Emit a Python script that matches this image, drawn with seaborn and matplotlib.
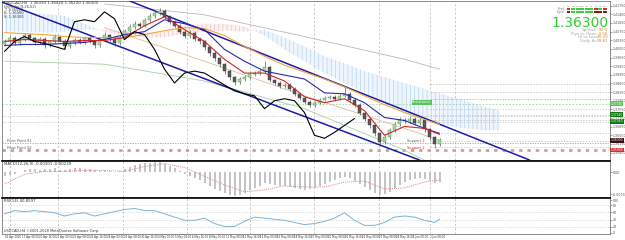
import numpy as np
import seaborn as sns
import matplotlib.pyplot as plt
import matplotlib.transforms as mtransforms
from matplotlib.patches import Rectangle

# H4 bars
first_open = 1.4020
closes = [1.4030, 1.4046, 1.4022, 1.4038, 1.4058, 1.4046, 1.4026, 1.4042, 1.4014, 1.4030,
          1.4050, 1.4034, 1.4010, 1.4022, 1.4038, 1.4026, 1.4046, 1.4030, 1.4014, 1.4038,
          1.4058, 1.4042, 1.4022, 1.4050, 1.4074, 1.4090, 1.4102, 1.4094, 1.4118, 1.4134,
          1.4146, 1.4154, 1.4130, 1.4110, 1.4094, 1.4070, 1.4054, 1.4066, 1.4042, 1.4030,
          1.4006, 1.3982, 1.3962, 1.3938, 1.3910, 1.3886, 1.3866, 1.3878, 1.3886, 1.3898,
          1.3902, 1.3910, 1.3926, 1.3874, 1.3862, 1.3850, 1.3854, 1.3838, 1.3818, 1.3802,
          1.3786, 1.3774, 1.3782, 1.3794, 1.3802, 1.3806, 1.3798, 1.3810, 1.3818, 1.3794,
          1.3774, 1.3742, 1.3718, 1.3690, 1.3658, 1.3622, 1.3642, 1.3670, 1.3694, 1.3714,
          1.3706, 1.3718, 1.3698, 1.3710, 1.3674, 1.3642, 1.3614, 1.3630]
highs = [1.4042, 1.4056, 1.4054, 1.4048, 1.4066, 1.4064, 1.4050, 1.4050, 1.4048, 1.4038,
         1.4060, 1.4056, 1.4040, 1.4032, 1.4046, 1.4044, 1.4054, 1.4052, 1.4036, 1.4046,
         1.4068, 1.4062, 1.4048, 1.4058, 1.4082, 1.4100, 1.4112, 1.4110, 1.4126, 1.4144,
         1.4158, 1.4166, 1.4160, 1.4136, 1.4118, 1.4100, 1.4078, 1.4076, 1.4072, 1.4050,
         1.4036, 1.4012, 1.3990, 1.3968, 1.3944, 1.3918, 1.3892, 1.3886, 1.3894, 1.3906,
         1.3912, 1.3918, 1.3950, 1.3932, 1.3880, 1.3868, 1.3862, 1.3860, 1.3844, 1.3824,
         1.3808, 1.3792, 1.3790, 1.3800, 1.3810, 1.3814, 1.3812, 1.3818, 1.3844, 1.3824,
         1.3800, 1.3780, 1.3748, 1.3724, 1.3696, 1.3664, 1.3650, 1.3678, 1.3702, 1.3724,
         1.3722, 1.3728, 1.3724, 1.3720, 1.3716, 1.3680, 1.3648, 1.3640]
lows = [1.4012, 1.4024, 1.4014, 1.4016, 1.4032, 1.4036, 1.4016, 1.4020, 1.4002, 1.4008,
        1.4024, 1.4026, 1.3998, 1.4004, 1.4014, 1.4018, 1.4020, 1.4022, 1.4004, 1.4008,
        1.4032, 1.4034, 1.4012, 1.4016, 1.4044, 1.4066, 1.4082, 1.4084, 1.4088, 1.4110,
        1.4126, 1.4138, 1.4120, 1.4100, 1.4084, 1.4060, 1.4044, 1.4046, 1.4034, 1.4020,
        1.3996, 1.3972, 1.3950, 1.3926, 1.3898, 1.3876, 1.3854, 1.3858, 1.3870, 1.3880,
        1.3890, 1.3894, 1.3904, 1.3866, 1.3852, 1.3840, 1.3842, 1.3828, 1.3808, 1.3792,
        1.3776, 1.3764, 1.3766, 1.3776, 1.3788, 1.3796, 1.3790, 1.3792, 1.3804, 1.3786,
        1.3764, 1.3732, 1.3708, 1.3680, 1.3646, 1.3606, 1.3614, 1.3636, 1.3664, 1.3688,
        1.3698, 1.3700, 1.3690, 1.3692, 1.3664, 1.3630, 1.3600, 1.3606]

# indicator lines, sampled every 4 bars
ma_idx = [0, 4, 8, 12, 16, 20, 24, 28, 32, 36, 40, 44, 48, 52, 56, 60, 64, 68, 72, 76, 80, 84, 87]
tenkan = [1.4030, 1.4038, 1.4034, 1.4030, 1.4034, 1.4034, 1.4046, 1.4094, 1.4130, 1.4078, 1.4030, 1.3958,
          1.3902, 1.3902, 1.3870, 1.3806, 1.3782, 1.3798, 1.3750, 1.3650, 1.3686, 1.3678, 1.3654]
kijun = [1.4014, 1.4018, 1.4018, 1.4022, 1.4026, 1.4038, 1.4058, 1.4070, 1.4118, 1.4102, 1.4078, 1.3998,
         1.3950, 1.3910, 1.3894, 1.3878, 1.3822, 1.3818, 1.3782, 1.3722, 1.3710, 1.3678, 1.3658]
slow_ma = [1.4066, 1.4062, 1.4058, 1.4050, 1.4046, 1.4046, 1.4046, 1.4058, 1.4074, 1.4086, 1.4082, 1.4054,
           1.4010, 1.3970, 1.3934, 1.3906, 1.3878, 1.3846, 1.3810, 1.3774, 1.3742, 1.3714, 1.3694]

# ichimoku cloud (shifted forward)
cloud_idx = [0, 4, 8, 12, 16, 20, 24, 28, 32, 36, 40, 44, 48, 52, 56, 60, 64, 68, 72, 76, 80, 84, 88, 92, 96, 99]
span_a = [1.4146, 1.4150, 1.4142, 1.4134, 1.4102, 1.4070, 1.4054, 1.4046, 1.4046, 1.4062, 1.4070, 1.4074, 1.4070,
          1.4078, 1.4046, 1.4010, 1.3970, 1.3942, 1.3910, 1.3886, 1.3862, 1.3838, 1.3814, 1.3790, 1.3766, 1.3750]
span_b = [1.4070, 1.4070, 1.4066, 1.4070, 1.4078, 1.4078, 1.4070, 1.4066, 1.4070, 1.4094, 1.4102, 1.4102, 1.4090,
          1.4054, 1.3998, 1.3950, 1.3902, 1.3862, 1.3822, 1.3782, 1.3742, 1.3710, 1.3690, 1.3678, 1.3670, 1.3670]

# black overlay line
black_idx = list(range(0, 71, 2))
black_line = [1.3990, 1.4030, 1.4050, 1.4030, 1.4022, 1.4010, 1.3998, 1.4110, 1.4118, 1.4110, 1.4150, 1.4122,
              1.4038, 1.4070, 1.4058, 1.3998, 1.3918, 1.3862, 1.3902, 1.3910, 1.3902, 1.3878, 1.3854, 1.3830,
              1.3818, 1.3810, 1.3758, 1.3790, 1.3798, 1.3790, 1.3742, 1.3650, 1.3638, 1.3662, 1.3690, 1.3718]

# regression curves
curve_idx = [20, 40, 60, 80, 87]
gray_curve = [1.4182, 1.4138, 1.4050, 1.3958, 1.3918]
tan_curve = [1.4086, 1.3950, 1.3810, 1.3678, 1.3630]
green_idx = [0, 20, 40, 60, 80, 87]
green_curve = [1.3950, 1.3938, 1.3870, 1.3758, 1.3590, 1.3518]

# trend channel (two points each)
lower_chan_idx = [1, 83]
lower_chan = [1.4178, 1.3550]
upper_chan_idx = [32, 105]
upper_chan = [1.4138, 1.3550]

# horizontal levels
full_levels = [1.3778, 1.3730, 1.3702, 1.3618]
marker_level = 1.3590
right_levels = [1.3858, 1.3826, 1.3798, 1.3758, 1.3734, 1.3714, 1.3658, 1.3626, 1.3602]
price_tags = [1.3778, 1.3734, 1.3706, 1.3630, 1.3590]

# MACD
macd_hist = [-0.0012, -0.0009, -0.0006, 0.0000, 0.0006, 0.0009, 0.0009, 0.0006, 0.0009, 0.0009,
             0.0012, 0.0006, 0.0006, 0.0009, 0.0012, 0.0012, 0.0009, 0.0009, 0.0006, 0.0003,
             0.0006, 0.0003, 0.0000, 0.0003, 0.0009, 0.0018, 0.0024, 0.0027, 0.0030, 0.0030,
             0.0033, 0.0033, 0.0027, 0.0021, 0.0012, 0.0003, -0.0006, -0.0012, -0.0018, -0.0024,
             -0.0033, -0.0042, -0.0051, -0.0057, -0.0063, -0.0069, -0.0072, -0.0069, -0.0063, -0.0054,
             -0.0048, -0.0042, -0.0033, -0.0036, -0.0039, -0.0042, -0.0042, -0.0045, -0.0048, -0.0051,
             -0.0054, -0.0051, -0.0048, -0.0042, -0.0036, -0.0030, -0.0024, -0.0018, -0.0015, -0.0018,
             -0.0027, -0.0036, -0.0045, -0.0054, -0.0063, -0.0069, -0.0066, -0.0060, -0.0048, -0.0039,
             -0.0030, -0.0024, -0.0021, -0.0018, -0.0021, -0.0027, -0.0033, -0.0030]
macd_signal = [-0.0036, -0.0006, 0.0003, 0.0003, 0.0006, 0.0006, 0.0003, 0.0018, 0.0027, 0.0015, -0.0012, -0.0039,
               -0.0060, -0.0054, -0.0042, -0.0045, -0.0045, -0.0030, -0.0027, -0.0051, -0.0048, -0.0030, -0.0024]

# RSI(14)
rsi_idx = list(range(0, 88, 2)) + [87]
rsi = [56, 65, 62, 65, 62, 59, 50, 56, 59, 50, 56, 62, 68, 71, 65, 65, 56, 47, 38, 38, 44, 29, 21,
       21, 35, 47, 44, 41, 38, 32, 26, 29, 35, 44, 59, 38, 24, 24, 32, 47, 50, 47, 38, 32, 41]

# week separators (bar units) and time axis labels
week_starts = [1.1, 10.7, 23.7, 36.5, 49.1, 61.9, 74.9, 85.1, 90.1]
date_labels = ["16 Apr 2020", "17 Apr 08:00", "20 Apr 16:00", "22 Apr 00:00", "23 Apr 08:00", "24 Apr 16:00",
               "28 Apr 00:00", "29 Apr 08:00", "30 Apr 16:00", "4 May 00:00", "5 May 08:00", "6 May 16:00",
               "8 May 00:00", "11 May 08:00", "12 May 16:00", "14 May 00:00", "15 May 08:00", "18 May 16:00",
               "20 May 00:00", "21 May 08:00", "22 May 16:00", "26 May 00:00", "27 May 08:00", "28 May 16:00",
               "1 Jun 00:00", "2 Jun 08:00"]

# info panel (top right)
tf_names = ["M1", "M5", "M15", "M30", "H1", "H4", "D1", "W1", "MN"]
trend_row1 = [-1, 1, 1, 1, 1, 1, -1, 1, -1]
trend_row2 = [-1, 1, 1, 1, 1, 1, -1, -1, -1]
last_price = "1.36300"
info_names = ["Spread", "Pips to Open", "Hi to Low", "Daily Av"]
info_values = ["32.0", "-4.56", "49.20", "59.81"]


def main():
    sns.set_theme(style="white")
    plt.rcParams['font.family'] = ['DejaVu Sans']
    plt.rcParams['hatch.linewidth'] = 0.45

    n = len(closes)
    idx = np.arange(n)
    c = np.array(closes)
    o = np.array([first_open] + closes[:-1])
    bull = c >= o

    fig = plt.figure(figsize=(6.25, 2.4), dpi=100)
    ax = fig.add_axes([2 / 625, 80 / 240, 608 / 625, 159 / 240])
    ax_macd = fig.add_axes([2 / 625, 43 / 240, 608 / 625, 36 / 240])
    ax_rsi = fig.add_axes([2 / 625, 6 / 240, 608 / 625, 36 / 240])
    axes = [ax, ax_macd, ax_rsi]

    for a in axes:
        a.set_xlim(-0.5, 121.1)
        for w in week_starts:
            a.axvline(w, color='#b4b4b4', ls=(0, (3, 3)), lw=0.5, zorder=0)
        for s in a.spines.values():
            s.set_color('#777777')
            s.set_linewidth(0.6)
        a.yaxis.tick_right()
        a.tick_params(axis='y', labelsize=2.3, colors='#555555', length=1.2, width=0.4, pad=0.8)
        a.tick_params(axis='x', length=0)
    ax_macd.spines['top'].set(color='black', linewidth=1.2)
    ax_rsi.spines['top'].set(color='black', linewidth=1.2)

    # ---- main price panel ----
    ax.set_ylim(1.3550, 1.4194)
    ci = np.array(cloud_idx)
    sa = np.array(span_a)
    sb = np.array(span_b)
    ax.fill_between(ci, sa, sb, where=sa >= sb, interpolate=True, facecolor='#eef5fc',
                    edgecolor='#b3d1ee', hatch='||||', lw=0, zorder=1)
    ax.fill_between(ci, sa, sb, where=sa < sb, interpolate=True, facecolor='#fcf1f1',
                    edgecolor='#eabebe', hatch='||||', lw=0, zorder=1)

    sns.lineplot(x=curve_idx, y=gray_curve, ax=ax, color='#b8b8b8', lw=0.6, zorder=2)
    sns.lineplot(x=curve_idx, y=tan_curve, ax=ax, color='#d9bf9a', lw=0.6, zorder=2)
    sns.lineplot(x=green_idx, y=green_curve, ax=ax, color='#a5d0a5', lw=0.6, zorder=2)

    ax.axhline(full_levels[0], color='#9ed59e', ls=(0, (2, 2)), lw=0.6, zorder=1)
    for lv in full_levels[1:3]:
        ax.axhline(lv, color='#c4c4c4', ls=(0, (2, 2)), lw=0.5, zorder=1)
    ax.axhline(full_levels[3], color='#a0a0a0', ls=(0, (1.5, 1.5)), lw=0.6, zorder=1)
    ax.axhline(marker_level, color='#c9a0a0', ls=(0, (1.2, 1.8)), lw=2.0, zorder=1)
    ax.hlines(right_levels, 85, 121.5, colors='#bdbdbd', linestyles=(0, (2, 2)), lw=0.5, zorder=1)
    ax.hlines(right_levels[2], 85, 121.5, colors='#9ed59e', linestyles=(0, (2, 2)), lw=0.5, zorder=1)

    ax.axline((lower_chan_idx[0], lower_chan[0]), (lower_chan_idx[1], lower_chan[1]),
              color='#1c1ca8', lw=1.1, zorder=3)
    ax.axline((upper_chan_idx[0], upper_chan[0]), (upper_chan_idx[1], upper_chan[1]),
              color='#1c1ca8', lw=1.1, zorder=3)

    # candles
    ax.vlines(idx, lows, highs, color='#4a4a4a', lw=0.45, zorder=4)
    body_lo = np.minimum(o, c)
    body_h = np.maximum(np.abs(c - o), 0.0002)
    ax.bar(idx[bull], body_h[bull], bottom=body_lo[bull], width=0.5, color='#a6d8a6',
           edgecolor='#4d8f4d', lw=0.3, zorder=5)
    ax.bar(idx[~bull], body_h[~bull], bottom=body_lo[~bull], width=0.5, color='#5a5a5a',
           edgecolor='#333333', lw=0.3, zorder=5)

    sns.lineplot(x=ma_idx, y=slow_ma, ax=ax, color='#f2a63a', lw=0.8, zorder=6)
    sns.lineplot(x=ma_idx, y=kijun, ax=ax, color='#2a2ab0', lw=0.8, zorder=6)
    sns.lineplot(x=ma_idx, y=tenkan, ax=ax, color='#d02525', lw=0.8, zorder=6)
    sns.lineplot(x=black_idx, y=black_line, ax=ax, color='black', lw=0.8, zorder=7)

    ax.yaxis.set_major_locator(plt.MultipleLocator(0.0035))
    ax.yaxis.set_major_formatter(plt.FormatStrFormatter('%.5f'))
    ax.set_xticks([])

    tr = mtransforms.blended_transform_factory(ax.transAxes, ax.transData)
    tag_colors = ['#5cc05c', '#127a12', '#127a12', '#3a1010', '#e02a2a']
    for p, col in zip(price_tags, tag_colors):
        ax.text(1.001, p, f'{p:.5f}', transform=tr, fontsize=2.2, color='white', va='center',
                ha='left', bbox=dict(fc=col, ec='none', pad=0.25), clip_on=False, zorder=10)

    # small labels on level lines
    ax.text(0.5, full_levels[3] + 0.0003, 'Pivot Point S1', fontsize=2.5, color='#555555')
    ax.text(0.5, marker_level + 0.0003, 'Pivot Point S2', fontsize=2.5, color='#555555')
    ax.text(81.5, full_levels[0] + 0.0002, 'Resistance', fontsize=2.5, color='white',
            bbox=dict(fc='#5cc05c', ec='none', pad=0.3))
    ax.text(80.5, full_levels[3] + 0.0003, 'Support 1', fontsize=2.5, color='#555555')
    ax.text(80.5, marker_level + 0.0003, 'Support 2', fontsize=2.5, color='#d02525')

    # top-left header
    ax.text(0.003, 0.997, 'USDCAD,H4  1.36330 1.36420 1.36220 1.36300', transform=ax.transAxes,
            fontsize=2.8, va='top', color='#333333')
    head = ['Ichimoku(9,26,52)', 'T: 1.36540', 'K: 1.36580', 'S: 1.36300']
    for k, t in enumerate(head):
        ax.text(0.003, 0.975 - k * 0.02, t, transform=ax.transAxes, fontsize=2.6, va='top', color='#444444')

    # top-right info block
    cw = 0.0075
    x0 = 0.928
    for k, name in enumerate(tf_names):
        ax.text(x0 + k * cw + cw / 2, 0.962, name, transform=ax.transAxes, fontsize=1.5,
                ha='center', va='bottom', color='#777777')
    for r, row in enumerate([trend_row1, trend_row2]):
        for k, v in enumerate(row):
            col = '#3ccf3c' if v > 0 else ('#d83030' if r == 0 else '#8a1a1a')
            ax.add_patch(Rectangle((x0 + k * cw + 0.0005, 0.942 - r * 0.02), cw - 0.001, 0.016,
                                   transform=ax.transAxes, color=col, lw=0, zorder=10))
    ax.text(0.925, 0.952, 'Trend', transform=ax.transAxes, fontsize=1.8, ha='right', va='center', color='#777777')
    ax.text(0.925, 0.932, 'Signal', transform=ax.transAxes, fontsize=1.8, ha='right', va='center', color='#777777')
    ax.text(0.997, 0.862, last_price, transform=ax.transAxes, fontsize=10, ha='right', va='center',
            color='#2fcf2f')
    for k, (nm, val) in enumerate(zip(info_names, info_values)):
        yy = 0.815 - k * 0.022
        ax.text(0.978, yy, nm, transform=ax.transAxes, fontsize=3, ha='right', va='center', color='#a8a8a8')
        ax.text(0.997, yy, val, transform=ax.transAxes, fontsize=3, ha='right', va='center', color='#e08a20')

    # ---- MACD panel ----
    ax_macd.set_ylim(-0.0076, 0.0035)
    ax_macd.bar(idx, macd_hist, width=0.4, color='#c4c4c4', edgecolor='none', lw=0, zorder=2)
    sns.lineplot(x=ma_idx, y=macd_signal, ax=ax_macd, color='#d98a8a', lw=0.7, ls=(0, (1, 1)), zorder=3)
    ax_macd.set_yticks([0.0, -0.0068])
    ax_macd.set_yticklabels(['0.00', '-0.0074'])
    ax_macd.set_xticks([])
    ax_macd.text(0.003, 0.96, 'MACD(12,26,9) -0.00301 -0.00239', transform=ax_macd.transAxes,
                 fontsize=2.8, va='top', color='#333333')

    # ---- RSI panel ----
    ax_rsi.set_ylim(0, 100)
    for lv in [20, 40, 60, 80]:
        ax_rsi.axhline(lv, color='#cccccc', ls=(0, (2, 2)), lw=0.5, zorder=1)
    sns.lineplot(x=rsi_idx, y=rsi, ax=ax_rsi, color='#7db3d8', lw=0.7, zorder=3)
    ax_rsi.set_yticks([94, 80, 60, 40, 20, 4])
    ax_rsi.set_yticklabels(['100', '80', '60', '40', '20', '0'])
    ax_rsi.text(0.003, 0.96, 'RSI(14) 40.8597', transform=ax_rsi.transAxes, fontsize=2.8, va='top', color='#333333')
    ax_rsi.text(0.003, 0.04, 'USDCAD,H4 \u00a92001-2020 MetaQuotes Software Corp.', transform=ax_rsi.transAxes,
                fontsize=2.5, va='bottom', color='#333333')

    tick_pos = 0.1 + 3.4 * np.arange(len(date_labels))
    ax_rsi.set_xticks(tick_pos)
    ax_rsi.set_xticklabels(date_labels, fontsize=1.9, ha='left', color='#333333')
    ax_rsi.tick_params(axis='x', pad=1)

    for a in axes:
        a.set_xlabel('')
        a.set_ylabel('')

    fig.savefig('out.png', dpi=100)


if __name__ == "__main__":
    main()
